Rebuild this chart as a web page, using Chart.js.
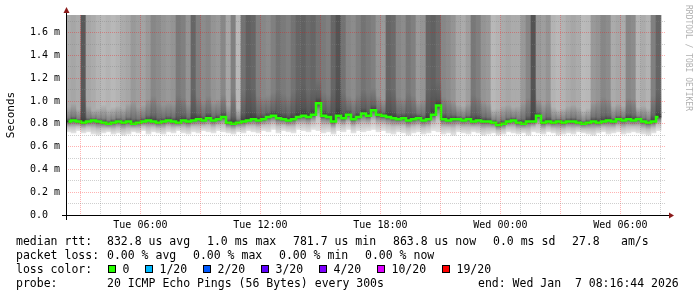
<!DOCTYPE html>
<html>
<head>
<meta charset="utf-8">
<title>SmokePing - latência</title>
<script src="https://cdn.jsdelivr.net/npm/chart.js@4.4.1/dist/chart.umd.min.js"></script>
<style>
    html, body { margin: 0; padding: 0; background: #fff; }
    canvas { display: block; }
</style>
</head>
<body>
<canvas id="grafico" width="697" height="297"></canvas>
<script>
// --- DADOS (uma coluna a cada 15 min) ---
const inicioHoras = 2.279;   // Tue 02:16:44 (horas desde Tue 00:00)
const fimHoras = 32.279;     // Wed 08:16:44
const passoHoras = 0.25;
const eixoYMax = 1.755;      // ms

// mediana (ms)
const medianas = [
    0.82, 0.83, 0.82, 0.81, 0.82, 0.83, 0.82, 0.81, 0.80, 0.81,
    0.82, 0.81, 0.82, 0.80, 0.81, 0.82, 0.83, 0.82, 0.81, 0.82,
    0.83, 0.82, 0.81, 0.83, 0.82, 0.83, 0.84, 0.83, 0.85, 0.83,
    0.84, 0.86, 0.81, 0.80, 0.81, 0.82, 0.83, 0.84, 0.83, 0.84,
    0.86, 0.87, 0.85, 0.84, 0.83, 0.84, 0.86, 0.87, 0.86, 0.88,
    0.98, 0.87, 0.86, 0.82, 0.87, 0.85, 0.88, 0.84, 0.86, 0.89,
    0.87, 0.92, 0.88, 0.87, 0.86, 0.85, 0.84, 0.85, 0.83, 0.84,
    0.85, 0.83, 0.84, 0.88, 0.96, 0.84, 0.83, 0.84, 0.84, 0.83,
    0.84, 0.82, 0.83, 0.82, 0.82, 0.81, 0.79, 0.80, 0.82, 0.83,
    0.81, 0.80, 0.82, 0.82, 0.87, 0.81, 0.82, 0.81, 0.82, 0.81,
    0.82, 0.82, 0.81, 0.80, 0.81, 0.82, 0.81, 0.82, 0.83, 0.82,
    0.84, 0.83, 0.84, 0.83, 0.84, 0.82, 0.81, 0.82, 0.86
];

// ping mais rápido de cada coluna (borda de baixo da fumaça)
const fumacaBaixa = [
    0.73, 0.72, 0.74, 0.72, 0.73, 0.71, 0.70, 0.72, 0.73, 0.71,
    0.72, 0.70, 0.71, 0.73, 0.72, 0.74, 0.71, 0.73, 0.72, 0.71,
    0.73, 0.72, 0.74, 0.72, 0.71, 0.73, 0.72, 0.74, 0.73, 0.72,
    0.74, 0.73, 0.72, 0.71, 0.73, 0.72, 0.74, 0.73, 0.72, 0.74,
    0.73, 0.75, 0.72, 0.74, 0.73, 0.72, 0.75, 0.74, 0.73, 0.75,
    0.74, 0.72, 0.73, 0.71, 0.74, 0.73, 0.75, 0.72, 0.74, 0.73,
    0.74, 0.75, 0.73, 0.74, 0.72, 0.71, 0.73, 0.72, 0.70, 0.72,
    0.73, 0.71, 0.72, 0.74, 0.73, 0.71, 0.72, 0.70, 0.73, 0.72,
    0.71, 0.73, 0.72, 0.70, 0.71, 0.72, 0.70, 0.71, 0.73, 0.72,
    0.71, 0.72, 0.70, 0.73, 0.72, 0.71, 0.73, 0.72, 0.70, 0.71,
    0.72, 0.71, 0.73, 0.72, 0.71, 0.70, 0.72, 0.73, 0.71, 0.72,
    0.73, 0.71, 0.72, 0.73, 0.72, 0.71, 0.70, 0.72, 0.74
];

// até onde vai a fumaça escura acima da mediana (ms)
const fumacaAlta = [
    0.95, 0.98, 0.93, 1.05, 0.96, 0.92, 0.94, 0.97, 0.93, 0.95,
    0.96, 0.94, 0.98, 1.00, 0.95, 0.97, 1.02, 1.05, 0.99, 0.97,
    1.00, 0.98, 1.06, 1.03, 0.98, 1.10, 1.04, 1.00, 1.05, 0.99,
    1.02, 1.06, 0.97, 1.08, 0.94, 1.10, 1.15, 1.12, 1.05, 1.04,
    1.06, 1.08, 1.10, 1.07, 1.05, 1.09, 1.12, 1.15, 1.10, 1.12,
    1.20, 1.08, 1.06, 1.12, 1.18, 1.08, 1.05, 1.03, 1.06, 1.10,
    1.08, 1.12, 1.05, 1.02, 1.12, 1.10, 1.04, 1.03, 1.08, 1.05,
    1.00, 1.02, 1.12, 1.15, 1.18, 1.04, 1.02, 1.00, 0.97, 0.96,
    0.98, 1.06, 1.04, 1.00, 0.98, 0.93, 0.94, 0.96, 0.97, 0.95,
    0.96, 0.99, 1.03, 1.15, 1.02, 0.98, 1.00, 0.95, 0.93, 0.94,
    0.96, 0.97, 0.95, 0.92, 0.94, 0.99, 1.01, 1.04, 1.02, 0.96,
    0.98, 0.96, 1.03, 1.02, 0.95, 0.96, 0.94, 1.05, 1.10
];

// densidade da fumaça acima (0 = claro, 1 = preto)
const densidade = [
    0.33, 0.35, 0.33, 0.65, 0.35, 0.33, 0.30, 0.28, 0.30, 0.28,
    0.30, 0.33, 0.35, 0.40, 0.38, 0.36, 0.40, 0.47, 0.45, 0.42,
    0.40, 0.42, 0.52, 0.50, 0.42, 0.60, 0.50, 0.45, 0.47, 0.42,
    0.40, 0.47, 0.35, 0.50, 0.28, 0.55, 0.62, 0.60, 0.50, 0.47,
    0.45, 0.50, 0.55, 0.52, 0.50, 0.55, 0.60, 0.62, 0.58, 0.60,
    0.55, 0.52, 0.50, 0.60, 0.67, 0.55, 0.47, 0.45, 0.50, 0.55,
    0.52, 0.50, 0.42, 0.40, 0.60, 0.58, 0.47, 0.45, 0.53, 0.50,
    0.40, 0.42, 0.60, 0.62, 0.58, 0.47, 0.45, 0.42, 0.35, 0.33,
    0.38, 0.53, 0.50, 0.42, 0.40, 0.28, 0.30, 0.33, 0.35, 0.33,
    0.33, 0.40, 0.47, 0.67, 0.40, 0.38, 0.42, 0.30, 0.28, 0.30,
    0.33, 0.35, 0.33, 0.27, 0.28, 0.40, 0.42, 0.47, 0.45, 0.33,
    0.35, 0.33, 0.47, 0.45, 0.30, 0.33, 0.30, 0.50, 0.60
];

const horasRotulos = [6, 12, 18, 24, 30];
const rotulosX = ['Tue 06:00', 'Tue 12:00', 'Tue 18:00', 'Wed 00:00', 'Wed 06:00'];

const legendaRtt = ['832.8 us avg', '1.0 ms max', '781.7 us min', '863.8 us now', '0.0 ms sd', '27.8', 'am/s'];
const legendaPerda = ['0.00 % avg', '0.00 % max', '0.00 % min', '0.00 % now'];
const rotulosPerda = ['0', '1/20', '2/20', '3/20', '4/20', '10/20', '19/20'];
const coresPerda = ['#26ff00', '#00b8ff', '#0059ff', '#5e00ff', '#7e00ff', '#dd00ff', '#ff0000'];
const textoSonda = '20 ICMP Echo Pings (56 Bytes) every 300s';
const textoFim = 'end: Wed Jan  7 08:16:44 2026';

// --- MONTAGEM DAS SÉRIES ---
const tempos = medianas.map((_, i) => inicioHoras + passoHoras * (i + 0.5));
const linhasX = [];
for (let h = Math.ceil(inicioHoras); h <= Math.floor(fimHoras); h++) linhasX.push(h);
const linhasY = [];
for (let d = 0; d <= 17; d++) linhasY.push(d / 10);

const MONO = '"DejaVu Sans Mono", monospace';
const GRADE_VERMELHA = 'rgba(255,0,0,0.3)';
const GRADE_CINZA = 'rgba(128,128,128,0.38)';

function gradienteBaixo(context) {
    const chart = context.chart;
    if (!chart.chartArea) return '#cccccc';
    const y = chart.scales.y;
    const i = context.dataIndex;
    const g = chart.ctx.createLinearGradient(0, y.getPixelForValue(fumacaBaixa[i]), 0, y.getPixelForValue(medianas[i]));
    g.addColorStop(0, '#e4e4e4');
    g.addColorStop(0.45, '#c0c0c0');
    g.addColorStop(0.8, '#888888');
    g.addColorStop(1, '#4a4a4a');
    return g;
}

function gradienteAlto(context) {
    const chart = context.chart;
    if (!chart.chartArea) return 'rgba(60,60,60,0.4)';
    const y = chart.scales.y;
    const i = context.dataIndex;
    const g = chart.ctx.createLinearGradient(0, y.getPixelForValue(medianas[i]), 0, y.getPixelForValue(fumacaAlta[i]));
    g.addColorStop(0, 'rgba(50,50,50,0.85)');
    g.addColorStop(0.25, 'rgba(60,60,60,0.4)');
    g.addColorStop(1, 'rgba(70,70,70,0)');
    return g;
}

function corDensidade(context) {
    const v = Math.round(255 * (1 - densidade[context.dataIndex]));
    return `rgb(${v},${v},${v})`;
}

const barraBase = { type: 'bar', grouped: false, barPercentage: 1, categoryPercentage: 1, borderWidth: 0 };

// --- GRADE PONTILHADA POR CIMA DA FUMAÇA (como no rrdtool) ---
const pluginGrade = {
    id: 'grade',
    afterDatasetsDraw(chart) {
        const c = chart.ctx;
        const a = chart.chartArea;
        const sx = chart.scales.x;
        const sy = chart.scales.y;
        c.save();
        c.lineWidth = 1;
        c.setLineDash([1, 1]);
        linhasX.forEach(h => {
            const px = Math.floor(sx.getPixelForValue(h)) + 0.5;
            c.strokeStyle = h % 3 === 0 ? GRADE_VERMELHA : GRADE_CINZA;
            c.beginPath();
            c.moveTo(px, a.top);
            c.lineTo(px, a.bottom);
            c.stroke();
        });
        linhasY.forEach(v => {
            if (v === 0) return;
            const py = Math.floor(sy.getPixelForValue(v)) + 0.5;
            c.strokeStyle = Math.round(v * 10) % 2 === 0 ? GRADE_VERMELHA : GRADE_CINZA;
            c.beginPath();
            c.moveTo(a.left, py);
            c.lineTo(a.right, py);
            c.stroke();
        });
        c.restore();
    }
};

// --- MOLDURA, EIXOS E LEGENDA DO RRDTOOL ---
const pluginMoldura = {
    id: 'moldura',
    afterDraw(chart) {
        const c = chart.ctx;
        const a = chart.chartArea;
        c.save();

        c.strokeStyle = '#000';
        c.lineWidth = 1;
        c.beginPath();
        c.moveTo(a.left - 4, a.bottom + 0.5);
        c.lineTo(a.right + 4, a.bottom + 0.5);
        c.moveTo(a.left + 0.5, a.bottom + 5);
        c.lineTo(a.left + 0.5, a.top - 3);
        c.stroke();

        c.fillStyle = '#8b1a1a';
        c.beginPath();
        c.moveTo(a.left - 2.5, a.top - 2);
        c.lineTo(a.left + 3.5, a.top - 2);
        c.lineTo(a.left + 0.5, a.top - 8);
        c.closePath();
        c.fill();
        c.beginPath();
        c.moveTo(a.right + 3, a.bottom - 2.5);
        c.lineTo(a.right + 3, a.bottom + 3.5);
        c.lineTo(a.right + 8, a.bottom + 0.5);
        c.closePath();
        c.fill();

        // título do eixo Y
        c.fillStyle = '#000';
        c.font = '11px ' + MONO;
        c.textAlign = 'center';
        c.textBaseline = 'middle';
        c.save();
        c.translate(11, (a.top + a.bottom) / 2);
        c.rotate(-Math.PI / 2);
        c.fillText('Seconds', 0, 0);
        c.restore();

        // marca d'água
        c.save();
        c.fillStyle = '#b0b0b0';
        c.font = '8px ' + MONO;
        c.textAlign = 'left';
        c.translate(688, 5);
        c.rotate(Math.PI / 2);
        c.fillText('RRDTOOL / TOBI OETIKER', 0, 0);
        c.restore();

        // legenda
        c.fillStyle = '#000';
        c.font = '11.5px ' + MONO;
        c.textAlign = 'left';
        c.textBaseline = 'alphabetic';
        const xRtt = [107, 207, 293, 393, 493, 572, 621];
        c.fillText('median rtt:', 16, 245);
        legendaRtt.forEach((t, i) => c.fillText(t, xRtt[i], 245));
        const xPerda = [107, 193, 279, 365];
        c.fillText('packet loss:', 16, 259);
        legendaPerda.forEach((t, i) => c.fillText(t, xPerda[i], 259));
        const xCaixa = [108, 145, 203, 261, 319, 377, 442];
        c.fillText('loss color:', 16, 273);
        rotulosPerda.forEach((t, i) => {
            c.fillStyle = coresPerda[i];
            c.fillRect(xCaixa[i], 265, 8, 8);
            c.strokeStyle = '#000';
            c.strokeRect(xCaixa[i] + 0.5, 265.5, 7, 7);
            c.fillStyle = '#000';
            c.fillText(t, xCaixa[i] + 14.5, 273);
        });
        c.fillText('probe:', 16, 287);
        c.fillText(textoSonda, 107, 287);
        c.fillText(textoFim, 478, 287);

        c.restore();
    }
};

const ctx = document.getElementById('grafico').getContext('2d');

new Chart(ctx, {
    type: 'bar',
    data: {
        datasets: [
            {
                type: 'line',
                data: tempos.map((t, i) => ({ x: t, y: medianas[i] })),
                borderColor: '#26ff00',
                borderWidth: 2.5,
                stepped: 'middle',
                pointRadius: 0,
                order: 0
            },
            {
                ...barraBase,
                data: tempos.map((t, i) => ({ x: t, y: [medianas[i], fumacaAlta[i]] })),
                backgroundColor: gradienteAlto,
                order: 1
            },
            {
                ...barraBase,
                data: tempos.map((t, i) => ({ x: t, y: [fumacaBaixa[i], medianas[i]] })),
                backgroundColor: gradienteBaixo,
                order: 2
            },
            {
                ...barraBase,
                data: tempos.map((t, i) => ({ x: t, y: [medianas[i], eixoYMax] })),
                backgroundColor: corDensidade,
                order: 3
            }
        ]
    },
    options: {
        responsive: false,
        devicePixelRatio: 1,
        animation: false,
        layout: { padding: { left: 0, top: 15, right: 31, bottom: 0 } },
        plugins: { legend: { display: false }, tooltip: { enabled: false } },
        scales: {
            x: {
                type: 'linear',
                min: inicioHoras,
                max: fimHoras,
                offset: false,
                bounds: 'data',
                afterBuildTicks: s => { s.ticks = linhasX.map(v => ({ value: v })); },
                afterFit: s => { s.height = 82; },
                grid: { display: false, offset: false, drawTicks: false },
                border: { display: false },
                ticks: {
                    autoSkip: false,
                    maxRotation: 0,
                    padding: 4,
                    color: '#000',
                    font: { family: 'DejaVu Sans Mono', size: 10 },
                    callback: v => {
                        const i = horasRotulos.indexOf(v);
                        return i >= 0 ? rotulosX[i] : '';
                    }
                }
            },
            y: {
                min: 0,
                max: eixoYMax,
                bounds: 'data',
                afterBuildTicks: s => { s.ticks = linhasY.map(v => ({ value: v })); },
                afterFit: s => { s.width = 66; },
                grid: { display: false, drawTicks: false },
                border: { display: false },
                ticks: {
                    padding: 6,
                    color: '#000',
                    font: { family: 'DejaVu Sans Mono', size: 10 },
                    callback: v => {
                        const d = Math.round(v * 10);
                        if (d % 2) return '';
                        return d === 0 ? '0.0  ' : (d / 10).toFixed(1) + ' m';
                    }
                }
            }
        }
    },
    plugins: [pluginGrade, pluginMoldura]
});
</script>
</body>
</html>
